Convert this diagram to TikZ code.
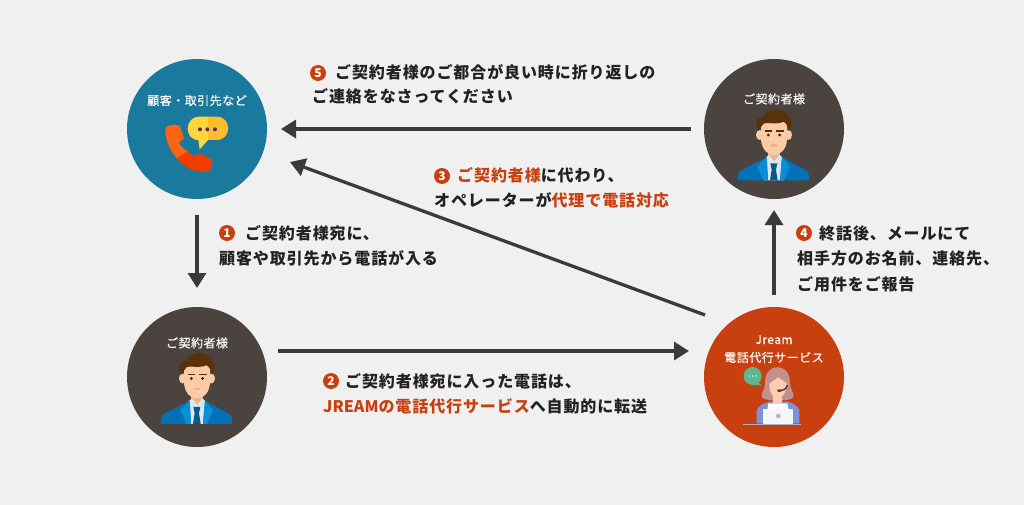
\documentclass[tikz,border=0pt]{standalone}
\usepackage{fontspec}
\usetikzlibrary{arrows.meta}
\newfontfamily\jpf[LetterSpace=5.6]{Noto Sans CJK JP}
\newfontfamily\jpl[LetterSpace=4,FakeBold=0.25]{Noto Sans CJK JP}
\newfontfamily\jpn{Noto Sans CJK JP}
\definecolor{bgc}{HTML}{F0F0F0}
\definecolor{teal}{HTML}{1A7A9E}
\definecolor{darkc}{HTML}{4A4340}
\definecolor{org}{HTML}{C8400F}
\definecolor{inkc}{HTML}{222222}
\definecolor{arrowc}{HTML}{3C3A39}
\definecolor{skin}{HTML}{FBCBA6}
\definecolor{skind}{HTML}{EFB48E}
\definecolor{hairc}{HTML}{5A3208}
\definecolor{jacketa}{HTML}{0072B5}
\definecolor{jacketb}{HTML}{0A8FD6}
\definecolor{shirtc}{HTML}{D8E8F2}
\definecolor{tiec}{HTML}{0A5C86}
\definecolor{phonea}{HTML}{FF6414}
\definecolor{phoneb}{HTML}{F03C00}
\definecolor{bubblea}{HTML}{FFD63F}
\definecolor{bubbleb}{HTML}{FDBE2E}
\definecolor{dotc}{HTML}{5A2A50}
\definecolor{greenb}{HTML}{5DB88F}
\definecolor{hairw}{HTML}{C4908A}
\definecolor{skinw}{HTML}{FFCDB2}
\definecolor{bluew}{HTML}{7F92D8}
\definecolor{deskc}{HTML}{B3B1CC}
\tikzset{
  disc/.style={circle,minimum size=140pt,inner sep=0pt,draw=none},
  flowarrow/.style={draw=arrowc,line width=3.3pt,-{Triangle[length=15pt,width=18pt]}},
  caption/.style={anchor=base west,inner sep=0pt,font=\jpf\bfseries\fontsize{16}{16}\selectfont,text=inkc},
  disclabel/.style={anchor=base,inner sep=0pt,font=\jpl\fontsize{12}{12}\selectfont,text=white},
  numdot/.style={circle,fill=org,minimum size=16pt,inner sep=0pt,text=white,font=\jpn\bfseries\fontsize{12}{12}\selectfont}
}
\newcommand{\hi}[1]{\textcolor{org}{#1}}
\newcommand{\personicon}[2]{%
\begin{scope}[shift={(#1,#2)},scale=1/3]
  \fill[skind] (205,280) rectangle (240,325);
  \fill[shirtc] (198,306) -- (208,300) -- (222,320) -- (238,300) -- (246,306) -- (252,376) -- (192,376) -- cycle;
  \fill[jacketa] (113,376) -- (116,352) .. controls (125,342) and (160,330) .. (200,306) -- (204,376) -- cycle;
  \fill[jacketa] (328,376) -- (325,352) .. controls (316,342) and (285,330) .. (246,306) -- (240,376) -- cycle;
  \fill[jacketb] (200,306) -- (172,335) -- (190,376) -- (204,376) -- cycle;
  \fill[jacketb] (246,306) -- (270,335) -- (252,376) -- (240,376) -- cycle;
  \fill[tiec] (211,325) -- (232,325) -- (228,344) -- (233,376) -- (210,376) -- (215,344) -- cycle;
  \fill[skin] (179,240) ellipse (11 and 15);
  \fill[skin] (265,240) ellipse (11 and 15);
  \fill[skin] (183,190) -- (261,190) -- (261,255) .. controls (258,285) and (240,300) .. (222,300) .. controls (204,300) and (186,285) .. (183,255) -- cycle;
  \fill[hairc] (176,228) .. controls (163,212) and (166,190) .. (190,185) .. controls (205,158) and (252,156) .. (268,185) .. controls (280,200) and (276,218) .. (266,228) .. controls (264,215) and (260,205) .. (250,200) .. controls (235,210) and (205,202) .. (192,205) .. controls (185,212) and (180,220) .. (176,228) -- cycle;
  \fill[inkc] (205,240) circle (4.5);
  \fill[inkc] (239,240) circle (4.5);
  \fill[hairc] (195,225) rectangle (217,230);
  \fill[hairc] (229,225) rectangle (251,230);
  \fill[skind] (212,268) rectangle (232,275);
\end{scope}}
\begin{document}
\begin{tikzpicture}[x=1pt,y=-1pt]
\useasboundingbox (0,0) rectangle (1024,505);
\fill[bgc] (0,0) rectangle (1024,505);

\node[disc,fill=teal] (client) at (197,129) {};
\node[disc,fill=darkc] (subtop) at (774,129) {};
\node[disc,fill=darkc] (subbot) at (197,377) {};
\node[disc,fill=org] (svc) at (774,377) {};

\node[disclabel] (clientlbl) at (197,105) {顧客・取引先など};
\node[disclabel] (subtoplbl) at (774,103.5) {ご契約者様};
\node[disclabel] (subbotlbl) at (197,347.5) {ご契約者様};
\node[disclabel] (svclbl) at (774,344) {Jream};
\node[disclabel] (svclblb) at (774,362) {電話代行サービス};

% phone and speech bubble
\begin{scope}[shift={(120,50)},scale=1/3]
  \fill[phoneb] (170,325) .. controls (190,350) and (220,366) .. (255,366) .. controls (272,366) and (278,358) .. (276,328) -- (238,310) -- (225,318) .. controls (218,318) and (210,312) .. (203,304) -- cycle;
  \fill[phonea] (170,325) .. controls (150,300) and (136,270) .. (136,238) .. controls (136,224) and (160,222) .. (178,227) -- (192,264) -- (177,278) .. controls (181,288) and (190,296) .. (203,304) -- cycle;
  \fill[bubblea] (264,200) -- (238,200) .. controls (192,200) and (192,270) .. (235,270) -- (239,298) -- (264,270) -- cycle;
  \fill[bubbleb] (264,200) -- (290,200) .. controls (336,200) and (336,270) .. (290,270) -- (264,270) -- cycle;
  \fill[dotc] (240,238) circle (6) (262,238) circle (6) (285,238) circle (6);
\end{scope}

\personicon{700}{55}
\personicon{123}{298.5}

% operator
\begin{scope}[shift={(700,300)},scale=1/3]
  \fill[greenb] (158,228) circle (27);
  \fill[greenb] (165,240) -- (186,256) -- (160,255) -- cycle;
  \fill[white!85!greenb] (148,228) circle (2.5) (158,228) circle (2.5) (168,228) circle (2.5);
  \fill[hairw] (232,202) .. controls (205,202) and (195,225) .. (195,250) .. controls (195,270) and (180,280) .. (186,292) .. controls (195,305) and (270,305) .. (280,292) .. controls (285,280) and (270,270) .. (270,250) .. controls (270,225) and (260,202) .. (232,202) -- cycle;
  \fill[bluew] (170,370) -- (170,330) .. controls (175,315) and (195,310) .. (208,305) -- (262,305) .. controls (280,310) and (295,318) .. (298,332) -- (298,370) -- cycle;
  \fill[white] (205,310) -- (262,310) -- (266,330) -- (202,330) -- cycle;
  \fill[skinw] (220,285) rectangle (246,312);
  \fill[skinw] (208,250) .. controls (215,245) and (225,240) .. (234,232) .. controls (245,240) and (255,243) .. (260,250) .. controls (260,280) and (245,296) .. (233,296) .. controls (220,296) and (208,280) .. (208,250) -- cycle;
  \draw[line width=1.5,draw=darkc] (262,255) .. controls (260,268) and (248,272) .. (236,272);
  \fill[darkc] (238,272) ellipse (7 and 4);
  \fill[white!92!bluew] (190,326) rectangle (280,371);
  \fill[deskc] (235,348) circle (7);
  \fill[deskc] (130,371) rectangle (303,376);
\end{scope}

% connectors
\coordinate (e1s) at (197,215); \coordinate (e1t) at (197,288);
\coordinate (e2s) at (278,351); \coordinate (e2t) at (689,351);
\coordinate (e3s) at (705,315); \coordinate (e3t) at (290,162);
\coordinate (e4s) at (774,295); \coordinate (e4t) at (774,210);
\coordinate (e5s) at (691,129); \coordinate (e5t) at (281,129);
\draw[flowarrow] (e1s) -- (e1t);
\draw[flowarrow] (e2s) -- (e2t);
\draw[flowarrow] (e3s) -- (e3t);
\draw[flowarrow] (e4s) -- (e4t);
\draw[flowarrow] (e5s) -- (e5t);

% captions
\node[numdot] (n5) at (318,73) {5};
\node[caption] (c5a) at (335,79) {ご契約者様のご都合が良い時に折り返しの};
\node[caption] (c5b) at (312,103) {ご連絡をなさってください};
\node[numdot] (n3) at (442,176) {3};
\node[caption] (c3a) at (457,182) {\hi{ご契約者様}に代わり、};
\node[caption] (c3b) at (434,206) {オペレーターが\hi{代理で電話対応}};
\node[numdot] (n1) at (227,233) {1};
\node[caption] (c1a) at (245,239) {ご契約者様宛に、};
\node[caption] (c1b) at (219,264) {顧客や取引先から電話が入る};
\node[numdot] (n2) at (331,381) {2};
\node[caption] (c2a) at (345,387) {ご契約者様宛に入った電話は、};
\node[caption] (c2b) at (323,412) {\hi{{\jpn\bfseries JREAM}の電話代行サービス}へ自動的に転送};
\node[numdot] (n4) at (804,233) {4};
\node[caption] (c4a) at (819,239) {終話後、メールにて};
\node[caption] (c4b) at (797,264) {相手方のお名前、連絡先、};
\node[caption] (c4c) at (797,290) {ご用件をご報告};
\end{tikzpicture}
\end{document}
